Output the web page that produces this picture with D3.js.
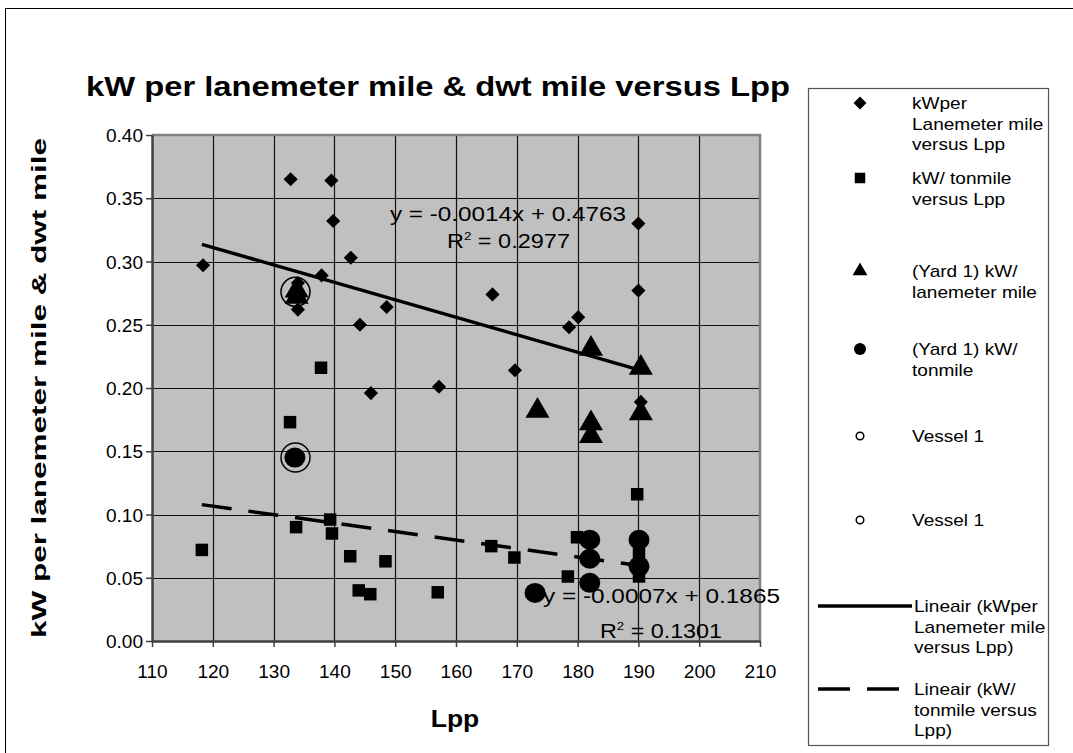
<!DOCTYPE html>
<html>
<head>
<meta charset="utf-8">
<script src="https://cdn.jsdelivr.net/npm/d3@7"></script>
<style>
  html, body { margin: 0; padding: 0; background: #ffffff; }
  svg { display: block; font-family: "Liberation Sans", Arial, Helvetica, sans-serif; }
</style>
</head>
<body>
<svg id="chart" width="1073" height="753"></svg>
<script>
// ---------------- data ----------------
const chartTitle = "kW per lanemeter mile & dwt mile versus Lpp";
const xAxisTitle = "Lpp";
const yAxisTitle = "kW per lanemeter mile & dwt mile";

const xTicks = [110, 120, 130, 140, 150, 160, 170, 180, 190, 200, 210];
const yTicks = [0.00, 0.05, 0.10, 0.15, 0.20, 0.25, 0.30, 0.35, 0.40];

// kW per Lanemeter mile versus Lpp (diamonds)
const laneX = [118.4, 132.8, 139.5, 139.8, 142.7, 137.9, 134.0, 134.0, 148.6, 144.2, 166.0, 146.0, 157.2, 169.7, 190.0, 190.0, 180.1, 178.6, 190.4];
const laneY = [0.297, 0.365, 0.364, 0.332, 0.303, 0.289, 0.283, 0.262, 0.264, 0.250, 0.274, 0.196, 0.201, 0.214, 0.330, 0.277, 0.256, 0.248, 0.189];

// kW/ tonmile versus Lpp (squares)
const tonX = [118.2, 133.7, 139.3, 139.6, 142.6, 148.4, 144.0, 145.9, 157.0, 165.8, 169.6, 178.4, 179.9, 189.8, 190.1, 190.1, 137.8, 132.7];
const tonY = [0.072, 0.090, 0.096, 0.085, 0.067, 0.063, 0.040, 0.037, 0.0385, 0.075, 0.066, 0.051, 0.082, 0.116, 0.069, 0.051, 0.216, 0.173];

// (Yard 1) kW/ lanemeter mile (triangles)
const yardLaneX = [133.8, 133.8, 173.4, 182.2, 182.2, 182.2, 190.4, 190.4];
const yardLaneY = [0.277, 0.272, 0.182, 0.231, 0.172, 0.162, 0.216, 0.180];

// (Yard 1) kW/ tonmile (circles)
const yardTonX = [133.5, 173.0, 182.0, 182.0, 182.0, 190.1, 190.1];
const yardTonY = [0.145, 0.038, 0.080, 0.065, 0.046, 0.080, 0.059];

// Vessel 1 (two series, open rings)
const vesselLaneX = [133.6];
const vesselLaneY = [0.276];
const vesselTonX = [133.6];
const vesselTonY = [0.145];

// Linear trend lines (slope, intercept) and their labels
const trendSlopes = [-0.00138, -0.00067];
const trendIntercepts = [0.4767, 0.1870];
const trendEquations = ["y = -0.0014x + 0.4763", "y = -0.0007x + 0.1865"];
const trendR2 = ["0.2977", "0.1301"];

const legendLabels = [
  ["kWper", "Lanemeter mile", "versus Lpp"],
  ["kW/ tonmile", "versus Lpp"],
  ["(Yard 1)  kW/", "lanemeter mile"],
  ["(Yard 1) kW/", "tonmile"],
  ["Vessel 1"],
  ["Vessel 1"],
  ["Lineair (kWper", "Lanemeter mile", "versus Lpp)"],
  ["Lineair (kW/", "tonmile versus", "Lpp)"]
];

// ---------------- layout ----------------
const svg = d3.select("#chart");
const P = { left: 152, right: 760, top: 135, bottom: 641 };

const x = d3.scaleLinear().domain([110, 210]).range([P.left, P.right]);
const y = d3.scaleLinear().domain([0, 0.40]).range([P.bottom, P.top]);

function stretch(sel, factor) {
  sel.each(function () {
    const w = this.getComputedTextLength();
    d3.select(this).attr("textLength", w * factor).attr("lengthAdjust", "spacingAndGlyphs");
  });
  return sel;
}

// outer chart border
svg.append("rect").attr("x", 5.5).attr("y", 8.5).attr("width", 1080).attr("height", 760)
  .attr("fill", "#ffffff").attr("stroke", "#000000").attr("stroke-width", 1);

// title
svg.append("text").attr("x", 86).attr("y", 96)
  .attr("font-size", 28).attr("font-weight", "bold").attr("fill", "#000")
  .attr("textLength", 704).attr("lengthAdjust", "spacingAndGlyphs")
  .text(chartTitle);

// plot background
svg.append("rect").attr("x", P.left).attr("y", P.top)
  .attr("width", P.right - P.left).attr("height", P.bottom - P.top)
  .attr("fill", "#c0c0c0");

// gridlines
const grid = svg.append("g");
grid.selectAll("line.h").data(yTicks.slice(1)).enter().append("line")
  .attr("x1", P.left).attr("x2", P.right)
  .attr("y1", d => Math.round(y(d)) + 0.5).attr("y2", d => Math.round(y(d)) + 0.5)
  .attr("stroke", "#111").attr("stroke-width", 1.2);
grid.selectAll("line.v").data(xTicks.slice(1, -1)).enter().append("line")
  .attr("y1", P.top).attr("y2", P.bottom)
  .attr("x1", d => Math.round(x(d)) + 0.5).attr("x2", d => Math.round(x(d)) + 0.5)
  .attr("stroke", "#111").attr("stroke-width", 1.2);

// plot border (top/right gray)
svg.append("path")
  .attr("d", `M${P.left},${P.top} H${P.right} V${P.bottom}`)
  .attr("fill", "none").attr("stroke", "#808080").attr("stroke-width", 2.5);

// axes
const yAxis = svg.append("g").attr("transform", `translate(${P.left},0)`)
  .call(d3.axisLeft(y).tickValues(yTicks).tickFormat(d3.format(".2f")).tickSize(6).tickSizeOuter(0));
const xAxis = svg.append("g").attr("transform", `translate(0,${P.bottom})`)
  .call(d3.axisBottom(x).tickValues(xTicks).tickFormat(d3.format("d")).tickSize(6).tickSizeOuter(0));
[xAxis, yAxis].forEach(a => {
  a.select(".domain").attr("stroke", "#404040").attr("stroke-width", 2.5);
  a.selectAll(".tick line").attr("stroke", "#404040").attr("stroke-width", 1.5);
  a.selectAll(".tick text").attr("font-size", 18.5).attr("fill", "#000")
    .attr("font-family", "\"Liberation Sans\", Arial, sans-serif");
});
yAxis.selectAll(".tick text").attr("x", -9).attr("dy", "0.36em");
xAxis.selectAll(".tick text").attr("y", 30).attr("dy", "0.36em");
stretch(yAxis.selectAll(".tick text"), 1.03);
stretch(xAxis.selectAll(".tick text"), 1.03);

// axis titles
stretch(svg.append("text").attr("x", 455).attr("y", 727).attr("text-anchor", "middle")
  .attr("font-size", 23).attr("font-weight", "bold").text(xAxisTitle), 1.15);
svg.append("text").attr("transform", `translate(46,${(P.top + P.bottom) / 2}) rotate(-90)`)
  .attr("text-anchor", "middle").attr("font-size", 21).attr("font-weight", "bold")
  .attr("textLength", 500).attr("lengthAdjust", "spacingAndGlyphs")
  .text(yAxisTitle);

// ---------------- marks ----------------
const marks = svg.append("g");
function zip(a, b) { return a.map((v, i) => [v, b[i]]); }

const diamondPath = d3.symbol().type(d3.symbolSquare).size(100)();
const squarePath = d3.symbol().type(d3.symbolSquare).size(156)();
const trianglePath = d3.symbol().type(d3.symbolTriangle).size(250)();

marks.selectAll("path.lane").data(zip(laneX, laneY)).enter().append("path")
  .attr("d", diamondPath)
  .attr("transform", d => `translate(${x(d[0])},${y(d[1])}) rotate(45)`)
  .attr("fill", "#000");

marks.selectAll("path.ton").data(zip(tonX, tonY)).enter().append("path")
  .attr("d", squarePath)
  .attr("transform", d => `translate(${x(d[0])},${y(d[1])})`)
  .attr("fill", "#000");

marks.selectAll("path.ylane").data(zip(yardLaneX, yardLaneY)).enter().append("path")
  .attr("d", trianglePath)
  .attr("transform", d => `translate(${x(d[0])},${y(d[1])})`)
  .attr("fill", "#000");

marks.selectAll("ellipse.yton").data(zip(yardTonX, yardTonY)).enter().append("ellipse")
  .attr("cx", d => x(d[0])).attr("cy", d => y(d[1])).attr("rx", 10.5).attr("ry", 10)
  .attr("fill", "#000");

marks.selectAll("circle.v").data(zip(vesselLaneX.concat(vesselTonX), vesselLaneY.concat(vesselTonY))).enter().append("circle")
  .attr("cx", d => x(d[0])).attr("cy", d => y(d[1])).attr("r", 14.5)
  .attr("fill", "none").attr("stroke", "#000").attr("stroke-width", 1.5);

// trend lines
const allX = laneX.concat(tonX);
const xr = d3.extent(allX);
const line = d3.line().x(d => x(d[0])).y(d => y(d[1]));
const trendStyles = [null, "30,17"];
trendSlopes.forEach((m, i) => {
  const pts = xr.map(v => [v, m * v + trendIntercepts[i]]);
  svg.append("path").attr("d", line(pts)).attr("fill", "none")
    .attr("stroke", "#000").attr("stroke-width", 3.5)
    .attr("stroke-dasharray", trendStyles[i]);
});

// trend labels
const eqPos = [[390, 221, 236], [543, 603, 237]];
const r2Pos = [[447, 248, 123], [600, 638, 122]];
trendEquations.forEach((t, i) => {
  svg.append("text").attr("x", eqPos[i][0]).attr("y", eqPos[i][1])
    .attr("font-size", 19.5).attr("textLength", eqPos[i][2]).attr("lengthAdjust", "spacingAndGlyphs")
    .text(t);
  const r = svg.append("text").attr("x", r2Pos[i][0]).attr("y", r2Pos[i][1])
    .attr("font-size", 19.5).attr("textLength", r2Pos[i][2]).attr("lengthAdjust", "spacingAndGlyphs");
  r.append("tspan").text("R");
  r.append("tspan").attr("font-size", 11).attr("dy", -8).text("2");
  r.append("tspan").attr("dy", 8).text(" = " + trendR2[i]);
});

// ---------------- legend ----------------
const L = { x: 808, y: 88, w: 240, h: 657 };
svg.append("rect").attr("x", L.x + 0.5).attr("y", L.y + 0.5).attr("width", L.w).attr("height", L.h)
  .attr("fill", "#fff").attr("stroke", "#555").attr("stroke-width", 1.2);

const legendY = [103, 178, 271, 349, 436, 520, 606, 689];
const lg = svg.append("g");
const symX = 860, textX = 912, lineH = 20.5;
legendLabels.forEach((lines, i) => {
  const cy = legendY[i];
  if (i === 0) lg.append("path").attr("d", d3.symbol().type(d3.symbolSquare).size(84)())
    .attr("transform", `translate(${symX},${cy}) rotate(45)`).attr("fill", "#000");
  if (i === 1) lg.append("path").attr("d", d3.symbol().type(d3.symbolSquare).size(110)())
    .attr("transform", `translate(${symX},${cy})`).attr("fill", "#000");
  if (i === 2) lg.append("path").attr("d", d3.symbol().type(d3.symbolTriangle).size(95)())
    .attr("transform", `translate(${symX},${cy})`).attr("fill", "#000");
  if (i === 3) lg.append("circle").attr("cx", symX).attr("cy", cy).attr("r", 6).attr("fill", "#000");
  if (i === 4 || i === 5) lg.append("circle").attr("cx", symX).attr("cy", cy).attr("r", 3.8)
    .attr("fill", "#fff").attr("stroke", "#000").attr("stroke-width", 1.5);
  if (i === 6) lg.append("line").attr("x1", 818).attr("x2", 912).attr("y1", cy).attr("y2", cy)
    .attr("stroke", "#000").attr("stroke-width", 3.5);
  if (i === 7) lg.append("line").attr("x1", 818).attr("x2", 900).attr("y1", cy).attr("y2", cy)
    .attr("stroke", "#000").attr("stroke-width", 3.5).attr("stroke-dasharray", "32,17");
  const tx = i >= 6 ? 914 : textX;
  lines.forEach((s, j) => {
    const t = lg.append("text").attr("x", tx).attr("y", cy + j * lineH).attr("dy", "0.36em")
      .attr("font-size", 17).text(s);
    stretch(t, 1.12);
  });
});
</script>
</body>
</html>
